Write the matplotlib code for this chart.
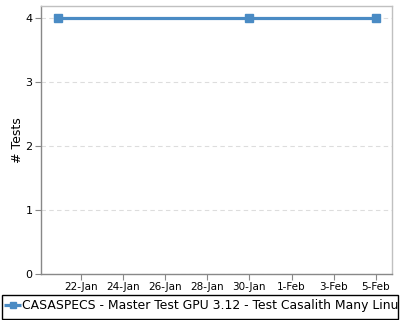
"""
Test count per build date.
"""
import datetime as dt
import matplotlib
matplotlib.use("Agg")
import matplotlib.pyplot as plt
import matplotlib.dates as mdates
from matplotlib.lines import Line2D
from matplotlib.patches import Rectangle

# data
dates = [dt.datetime(2021, 1, 20, 22), dt.datetime(2021, 1, 30, 0), dt.datetime(2021, 2, 5, 0)]
tests = [4, 4, 4]
# legend text as far as the reference shows it
series_name = "CASASPECS - Master Test GPU 3.12 - Test Casalith Many Linu"
tick_dates = [dt.datetime(2021, 1, 22) + dt.timedelta(days=2 * i) for i in range(8)]

COLOR = "#4a8bc4"
W, H = 400, 320

fig = plt.figure(figsize=(4, 3.2), dpi=100)
ax = fig.add_axes([0.1025, 0.144, 0.877, 0.837])

ax.plot(dates, tests, color=COLOR, lw=2.3, marker="s", ms=5.3, mec=COLOR, mfc=COLOR,
        solid_capstyle="butt", zorder=3, clip_on=False)

ax.set_xlim(dt.datetime(2021, 1, 20, 3), dt.datetime(2021, 2, 5, 18))
ax.set_ylim(0, 4.19)
ax.set_yticks([0, 1, 2, 3, 4])
ax.set_xticks(tick_dates)
ax.xaxis.set_major_formatter(mdates.DateFormatter("%-d-%b"))
ax.tick_params(axis="both", labelsize=7.5, length=4, width=0.8, color="#888888", pad=2)
ax.tick_params(axis="y", labelsize=8)
ax.yaxis.grid(True, ls=(0, (4, 3)), color="#dddddd", lw=0.8)
ax.set_axisbelow(True)

for side in ("left", "bottom"):
    ax.spines[side].set_color("#888888")
for side in ("top", "right"):
    ax.spines[side].set_color("#c0c0c0")
for s in ax.spines.values():
    s.set_linewidth(1)

ax.set_ylabel("# Tests", fontsize=9, labelpad=1)

# legend box at the bottom, drawn by hand in pixel units
fig.patches.append(Rectangle((1.5 / W, 1 / H), 396 / W, 24.5 / H, transform=fig.transFigure,
                             fill=False, ec="black", lw=1))
ly = 1 - 305 / H
fig.lines.append(Line2D([4 / W, 21 / W], [ly, ly], transform=fig.transFigure,
                        color=COLOR, lw=2.3, solid_capstyle="butt"))
fig.lines.append(Line2D([12.5 / W], [ly], transform=fig.transFigure, ls="none",
                        marker="s", ms=5, mec=COLOR, mfc=COLOR))
fig.text(22.5 / W, ly, series_name, fontsize=8.9, va="center", ha="left")

fig.savefig("out.png", dpi=100)
